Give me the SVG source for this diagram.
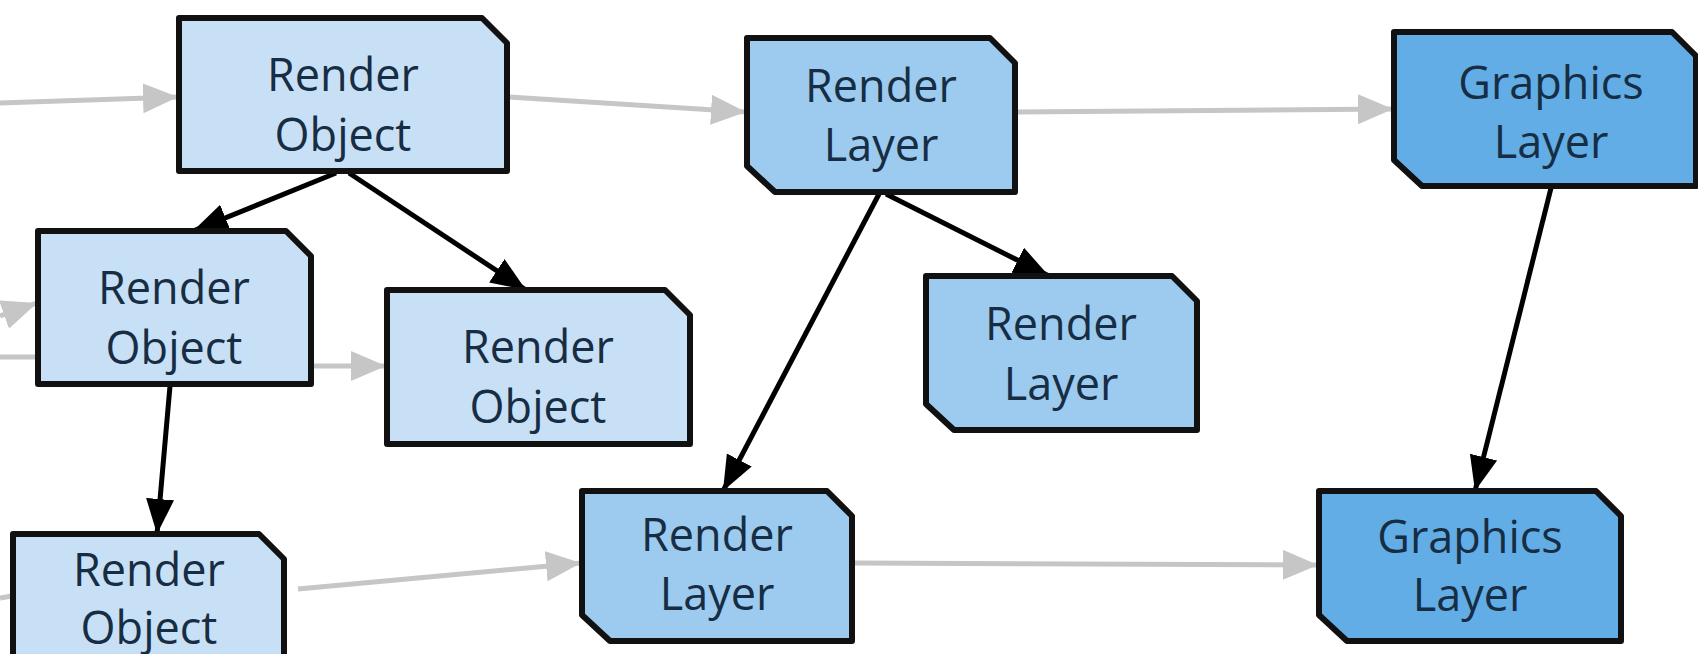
<svg xmlns="http://www.w3.org/2000/svg" width="1698" height="654" viewBox="0 0 1698 654">
<defs>
<style>
.node path{stroke:#111;stroke-width:6;stroke-linejoin:round}
.ro path{fill:#c8e0f5}
.rl path{fill:#9ccbef}
.gl path{fill:#62ade5}
.node text{font-family:"Open Sans","DejaVu Sans",sans-serif;font-size:45px;font-weight:500;fill:#172d44;text-anchor:middle}
.g{stroke:#c6c6c6;stroke-width:5;fill:none;marker-end:url(#ga)}
.b{stroke:#000;stroke-width:5;fill:none;marker-end:url(#ba)}
</style>
<marker id="ga" markerUnits="userSpaceOnUse" markerWidth="38" markerHeight="32" refX="35" refY="15" orient="auto"><path d="M0,0 L35,15 L0,30 Z" fill="#c6c6c6"/></marker>
<marker id="ba" markerUnits="userSpaceOnUse" markerWidth="38" markerHeight="32" refX="35" refY="15" orient="auto"><path d="M0,1 L35,15 L0,29 Z" fill="#000"/></marker>
</defs>
<rect width="1698" height="654" fill="#fff"/>
<g id="connectors">
<line class="g" x1="0" y1="103" x2="178" y2="97"/>
<line class="g" x1="509" y1="97" x2="746" y2="112"/>
<line class="g" x1="1017" y1="112" x2="1393" y2="109"/>
<line class="g" x1="0" y1="316" x2="37" y2="303"/>
<line class="g" x1="0" y1="357" x2="37" y2="357" style="marker-end:none"/>
<line class="g" x1="313" y1="366" x2="386" y2="366"/>
<line class="g" x1="0" y1="598" x2="12" y2="596" style="marker-end:none"/>
<line class="g" x1="298" y1="589" x2="581" y2="563"/>
<line class="g" x1="854" y1="563" x2="1318" y2="565"/>
<line class="b" x1="336" y1="173" x2="193" y2="231"/>
<line class="b" x1="349" y1="173" x2="526" y2="290"/>
<line class="b" x1="170" y1="386" x2="157" y2="534"/>
<line class="b" x1="879" y1="194" x2="723" y2="491"/>
<line class="b" x1="886" y1="194" x2="1049" y2="276"/>
<line class="b" x1="1551" y1="188" x2="1475" y2="491"/>
</g>
<g id="n1" class="node ro"><path d="M179,18 H482 L507,43 V171 H179 Z"/><text x="343" y="91">Render</text><text x="343" y="151">Object</text></g>
<g id="n2" class="node ro"><path d="M38,231 H286 L311,256 V384 H38 Z"/><text x="174" y="304">Render</text><text x="174" y="364">Object</text></g>
<g id="n3" class="node ro"><path d="M387,290 H665 L690,315 V444 H387 Z"/><text x="538" y="363">Render</text><text x="538" y="423">Object</text></g>
<g id="n4" class="node ro"><path d="M13,534 H259 L284,559 V680 H13 Z"/><text x="149" y="586">Render</text><text x="149" y="644">Object</text></g>
<g id="n5" class="node rl"><path d="M747,38 H990 L1015,63 V192 H775 L747,166 Z"/><text x="881" y="102">Render</text><text x="881" y="161">Layer</text></g>
<g id="n6" class="node rl"><path d="M926,276 H1172 L1197,301 V430 H954 L926,404 Z"/><text x="1061" y="340">Render</text><text x="1061" y="400">Layer</text></g>
<g id="n7" class="node rl"><path d="M582,491 H827 L852,516 V641 H610 L582,615 Z"/><text x="717" y="551">Render</text><text x="717" y="610">Layer</text></g>
<g id="n8" class="node gl"><path d="M1394,32 H1672 L1696,56 V186 H1422 L1394,160 Z"/><text x="1551" y="99">Graphics</text><text x="1551" y="158">Layer</text></g>
<g id="n9" class="node gl"><path d="M1319,491 H1596 L1621,516 V641 H1347 L1319,615 Z"/><text x="1470" y="553">Graphics</text><text x="1470" y="611">Layer</text></g>
</svg>
